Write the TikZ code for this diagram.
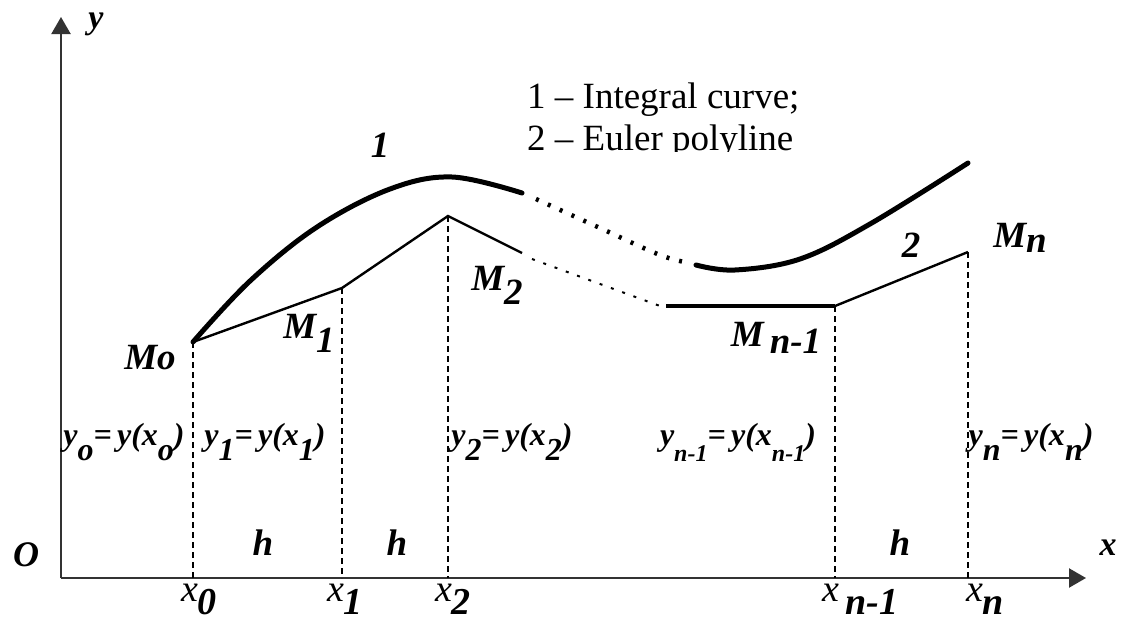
\documentclass[tikz,border=0pt]{standalone}
\usepackage{fontspec}
\setmainfont{Liberation Serif}
\usetikzlibrary{arrows.meta}
\newcommand\lo[2][0.42em]{\raisebox{-#1}{#2}}
\begin{document}
\begin{tikzpicture}[x=1pt,y=-1pt,
  axis/.style={line width=2.2pt, draw=black!80},
  tip/.style={-{Triangle[width=19pt,length=17pt]}},
  guide/.style={line width=1.4pt, dash pattern=on 6pt off 4pt},
  curve/.style={line width=5pt, line cap=round},
  curvedots/.style={line width=4.5pt, dash pattern=on 3pt off 10pt},
  poly/.style={line width=2.4pt, line join=miter},
  polythick/.style={line width=4.2pt},
  polydots/.style={line width=2pt, dash pattern=on 3pt off 9pt},
  lab/.style={font=\fontsize{37}{40}\selectfont\bfseries\itshape, inner sep=0pt},
  ylab/.style={font=\fontsize{32}{34}\selectfont\bfseries\itshape, inner sep=0pt},
  xlab/.style={font=\fontsize{38}{40}\selectfont\itshape, inner sep=0pt},
  legend/.style={font=\fontsize{37}{40}\selectfont, inner sep=0pt, anchor=base west}
]
\useasboundingbox (0,0) rectangle (1129,621);

% axes
\coordinate (O) at (61,578);
\coordinate (Ytip) at (61,17);
\coordinate (Xtip) at (1086,578);
\draw[axis,tip] (O) -- (Ytip);
\draw[axis,tip] (O) -- (Xtip);

% points
\coordinate (M0) at (193,342);
\coordinate (M1) at (342,288);
\coordinate (M2) at (448,216);
\coordinate (P2) at (522,253);
\coordinate (D1) at (532,259);
\coordinate (D2) at (660,306);
\coordinate (H1) at (666,306);
\coordinate (Mn1) at (835,306);
\coordinate (Mn) at (968,252);
\coordinate (X0) at (193,578);
\coordinate (X1) at (342,578);
\coordinate (X2) at (448,578);
\coordinate (Xn1) at (835,578);
\coordinate (Xn) at (968,578);

% guides
\draw[guide] (M0) -- (X0);
\draw[guide] (M1) -- (X1);
\draw[guide] (M2) -- (X2);
\draw[guide] (Mn1) -- (Xn1);
\draw[guide] (Mn) -- (Xn);

% integral curve
\draw[curve] plot[smooth, tension=0.6] coordinates {(193,342) (250,281) (317,227) (390,189) (452,177) (522,193)};
\draw[curvedots] plot[smooth, tension=0.6] coordinates {(536,199) (600,228) (660,255) (690,263)};
\draw[curve] plot[smooth, tension=0.6] coordinates {(696,265) (735,270) (800,259) (870,224) (968,163)};

% Euler polyline
\draw[poly] (M0) -- (M1) -- (M2) -- (P2);
\draw[polydots] (D1) -- (D2);
\draw[polythick] (H1) -- (Mn1);
\draw[poly] (Mn1) -- (Mn);

% labels
\node[lab, font=\fontsize{34}{36}\selectfont\bfseries\itshape] (ly) at (96,24) {y};
\node[lab, font=\fontsize{36}{38}\selectfont\bfseries\itshape] (lO) at (26,555) {O};
\node[lab, font=\fontsize{34}{36}\selectfont\bfseries\itshape] (lx) at (1108,548) {x};
\node[lab] (l1) at (380,145) {1};
\node[lab] (l2) at (911,245) {2};
\node[lab] (lM0) at (150,358) {Mo};
\node[lab] (lM1) at (309,333) {M\lo[0.38em]{1}};
\node[lab] (lM2) at (497,285) {M\lo[0.38em]{2}};
\node[lab] (lMn1) at (776,338) {M\,\lo[0.2em]{n-1}};
\node[lab] (lMn) at (1020,238) {M\lo[0.15em]{n}};

\node[ylab] (ly0) at (124,442) {y\lo[0.45em]{o}=\,y(x\lo[0.45em]{o})};
\node[ylab] (ly1) at (265,442) {y\lo[0.45em]{1}=\,y(x\lo[0.45em]{1})};
\node[ylab] (ly2) at (512,442) {y\lo[0.45em]{2}=\,y(x\lo[0.45em]{2})};
\node[ylab] (lyn1) at (738,442) {y\lo[0.5em]{\fontsize{24}{26}\selectfont n-1}=\,y(x\lo[0.5em]{\fontsize{24}{26}\selectfont n-1})};
\node[ylab] (lyn) at (1031,442) {y\lo[0.45em]{n}=\,y(x\lo[0.45em]{n})};

\node[lab] (h1) at (263,543) {h};
\node[lab] (h2) at (397,543) {h};
\node[lab] (h3) at (900,543) {h};

\node[xlab] (lx0) at (199,599) {x\lo[0.34em]{\bfseries 0}};
\node[xlab] (lx1) at (345,599) {x\lo[0.34em]{\bfseries 1}};
\node[xlab] (lx2) at (453,599) {x\lo[0.34em]{\bfseries 2}};
\node[xlab] (lxn1) at (860,599) {x\,\lo[0.34em]{\bfseries n-1}};
\node[xlab] (lxn) at (985,599) {x\lo[0.34em]{\bfseries n}};

% legend
\node[legend] (leg1) at (527,108) {1 – Integral curve;};
\begin{scope}
\clip (500,110) rectangle (830,151);
\node[legend] (leg2) at (527,150) {2 – Euler polyline};
\end{scope}
\end{tikzpicture}
\end{document}
